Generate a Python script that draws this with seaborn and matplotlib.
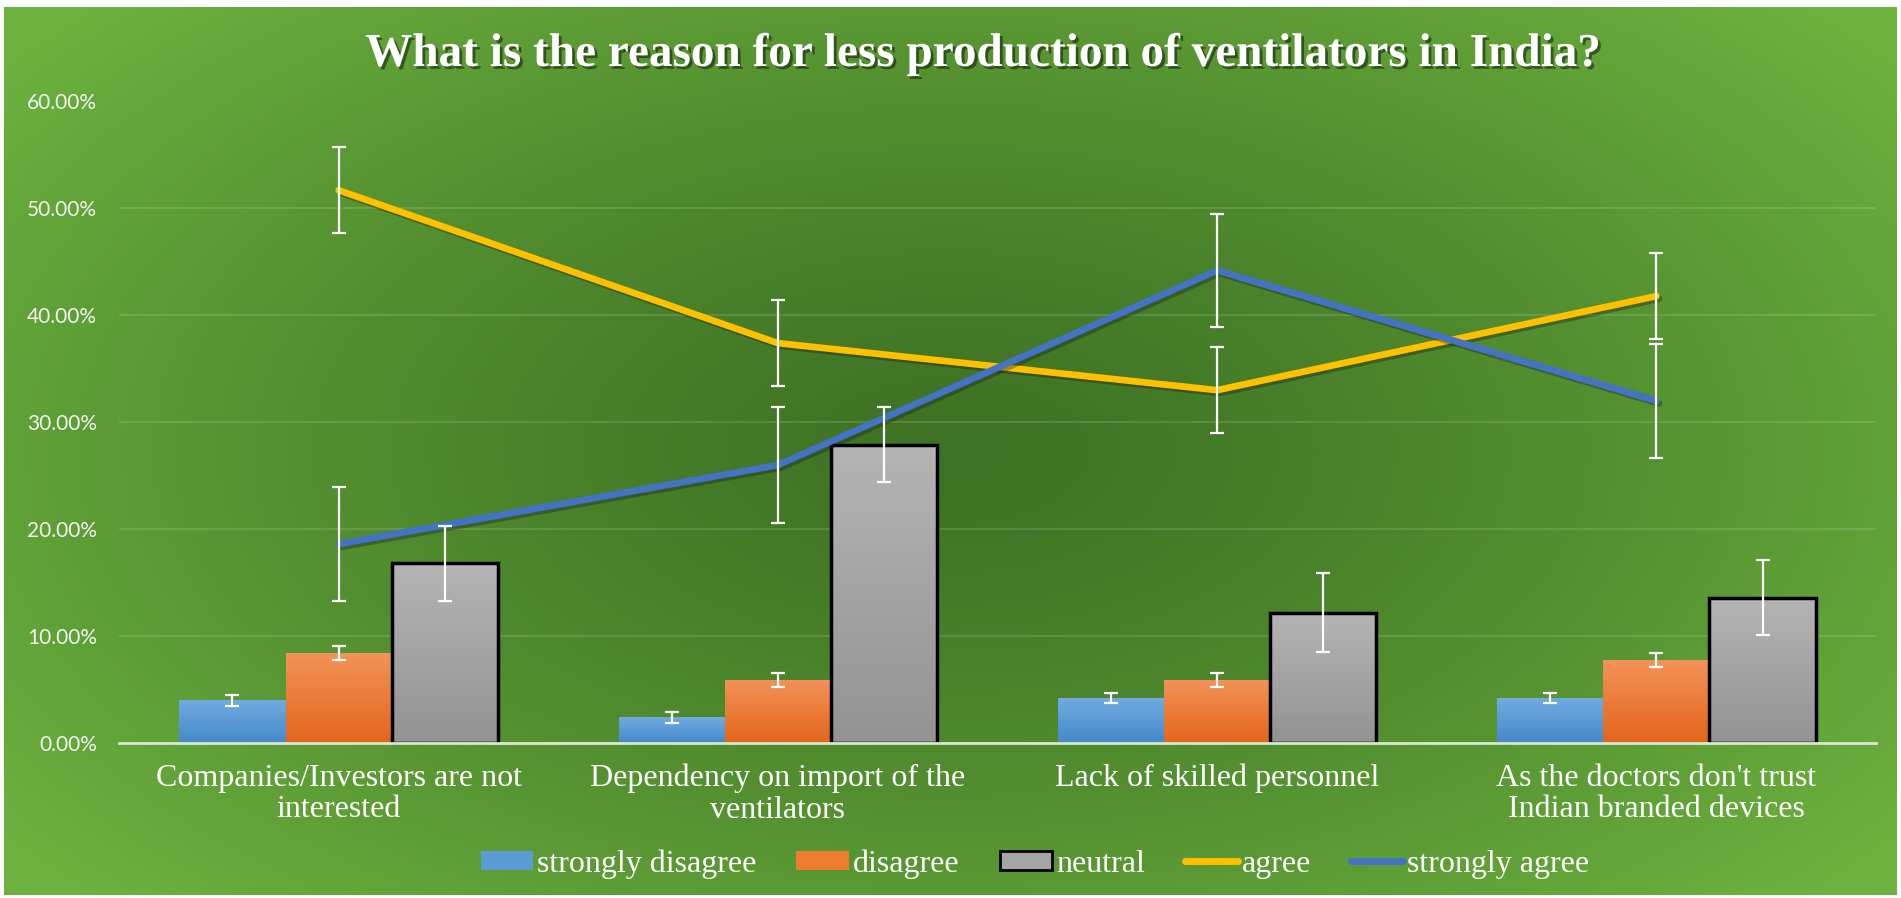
import matplotlib
matplotlib.use("Agg")

import matplotlib.pyplot as plt
import matplotlib.patheffects as pe
from matplotlib.colors import to_rgb
from matplotlib.lines import Line2D
from matplotlib.patches import Patch
from matplotlib.ticker import FuncFormatter, MultipleLocator
import numpy as np
import pandas as pd
import seaborn as sns


categories = [
    "Companies/Investors are not\ninterested",
    "Dependency on import of the\nventilators",
    "Lack of skilled personnel",
    "As the doctors don't trust\nIndian branded devices",
]
bar_levels = ["strongly disagree", "disagree", "neutral"]

strongly_disagree = [0.040, 0.024, 0.042, 0.042]
disagree = [0.084, 0.059, 0.059, 0.078]
neutral = [0.168, 0.279, 0.122, 0.136]
agree = [0.517, 0.374, 0.330, 0.418]
strongly_agree = [0.186, 0.260, 0.442, 0.320]

strongly_disagree_err = [0.005, 0.005, 0.005, 0.005]
disagree_err = [0.0065, 0.0065, 0.0065, 0.0065]
neutral_err = [0.035, 0.035, 0.037, 0.035]
agree_err = [0.040, 0.040, 0.040, 0.040]
strongly_agree_err = [0.053, 0.054, 0.053, 0.053]

COLORS = {
    "strongly disagree": "#5b9bd5",
    "disagree": "#ed7d31",
    "neutral": "#a5a5a5",
    "agree": "#ffc000",
    "strongly agree": "#4472c4",
}
# top / bottom shades for the gradient fill of the bars
GRADIENTS = {
    "strongly disagree": ("#72aae0", "#4489cb"),
    "disagree": ("#f3925a", "#e3661b"),
    "neutral": ("#b4b4b4", "#939393"),
}
SERIF = "Liberation Serif"
SANS = "Lato"


def draw_background(fig):
    bg = fig.add_axes([4 / 1901, 3 / 898, 1893 / 1901, 888 / 898], zorder=-10)
    h, w = 300, 640
    yy, xx = np.mgrid[0:h, 0:w]
    x = xx / (w - 1)
    y = yy / (h - 1)
    r = np.sqrt(((x - 0.5) / 0.62) ** 2 + ((y - 0.5) / 0.72) ** 2)
    t = np.clip(r, 0, 1) ** 1.3
    dark = np.array([0x3e, 0x72, 0x24]) / 255
    light = np.array([0x6c, 0xb1, 0x3e]) / 255
    img = dark[None, None, :] * (1 - t[..., None]) + light[None, None, :] * t[..., None]
    bg.imshow(img, aspect="auto", extent=[0, 1, 0, 1])
    bg.set_axis_off()


def gradient_fill(ax, patch, top, bottom):
    c0 = np.array(to_rgb(top))
    c1 = np.array(to_rgb(bottom))
    t = np.linspace(0, 1, 64)[:, None, None]
    img = c0 * (1 - t) + c1 * t
    x0, y0 = patch.get_x(), patch.get_y()
    im = ax.imshow(img, aspect="auto", origin="upper", zorder=1.9,
                   extent=[x0, x0 + patch.get_width(), y0, y0 + patch.get_height()])
    im.set_clip_path(patch)


def main() -> None:
    sns.set_theme(style="white")
    fig = plt.figure(figsize=(19.01, 8.98), dpi=100, facecolor="white")
    draw_background(fig)

    ax = fig.add_axes([119 / 1901, 1 - 743 / 898, (1876 - 119) / 1901, (743 - 101.5) / 898])
    ax.set_facecolor("none")

    df = pd.DataFrame(
        {
            "category": np.repeat(categories, 3),
            "level": bar_levels * 4,
            "value": np.ravel(np.column_stack([strongly_disagree, disagree, neutral])),
        }
    )
    sns.barplot(
        data=df, x="category", y="value", hue="level", hue_order=bar_levels,
        order=categories, palette=COLORS, width=0.725, saturation=1,
        errorbar=None, legend=False, ax=ax, zorder=2,
    )

    errs = [strongly_disagree_err, disagree_err, neutral_err]
    for cont, level, err in zip(ax.containers, bar_levels, errs):
        xs, hs = [], []
        for p in cont.patches:
            gradient_fill(ax, p, *GRADIENTS[level])
            p.set_facecolor("none")
            p.set_linewidth(0)
            if level == "neutral":
                p.set_edgecolor("black")
                p.set_linewidth(2.5)
            xs.append(p.get_x() + p.get_width() / 2)
            hs.append(p.get_height())
        ax.errorbar(xs, hs, yerr=err, fmt="none", ecolor="white", elinewidth=1.6,
                    capsize=5, capthick=1.6, zorder=6)

    xi = np.arange(len(categories))
    shadow = [pe.SimpleLineShadow(offset=(2, -2), alpha=0.35), pe.Normal()]
    for vals, err, name in [(agree, agree_err, "agree"), (strongly_agree, strongly_agree_err, "strongly agree")]:
        sns.lineplot(x=xi, y=vals, color=COLORS[name], linewidth=4.8, ax=ax, legend=False,
                     zorder=4, solid_capstyle="round", path_effects=shadow)
        ax.errorbar(xi, vals, yerr=err, fmt="none", ecolor="white", elinewidth=1.6,
                    capsize=5, capthick=1.6, zorder=6)

    ax.set_xlim(-0.5, len(categories) - 0.5)
    ax.set_ylim(0, 0.6)
    ax.yaxis.set_major_locator(MultipleLocator(0.1))
    ax.yaxis.set_major_formatter(FuncFormatter(lambda v, _: f"{v * 100:.2f}%"))
    ax.grid(axis="y", color="white", alpha=0.15, linewidth=1.2)
    ax.set_axisbelow(True)
    for s in ["top", "right", "left"]:
        ax.spines[s].set_visible(False)
    ax.spines["bottom"].set_color("#d9e8d0")
    ax.spines["bottom"].set_linewidth(2)
    ax.spines["bottom"].set_zorder(3)
    ax.set_xlabel("")
    ax.set_ylabel("")
    ax.tick_params(axis="y", length=0, pad=16, labelcolor="#f2f2f2", labelsize=15)
    ax.tick_params(axis="x", length=0, pad=15, labelcolor="white", labelsize=23)
    for lab in ax.get_yticklabels():
        lab.set_family(SANS)
    ax.set_xticks(xi)
    ax.set_xticklabels(categories, family=SERIF, va="top", linespacing=1.12)

    fig.text(811 * 1.2124 / 1901, 1 - 55 / 898,
             "What is the reason for less production of ventilators in India?",
             ha="center", va="center", color="white", fontsize=34, fontweight="bold",
             family=SERIF,
             path_effects=[pe.withSimplePatchShadow(offset=(2, -2), shadow_rgbFace="black", alpha=0.45)])

    handles = [
        Patch(facecolor=COLORS["strongly disagree"], edgecolor="none"),
        Patch(facecolor=COLORS["disagree"], edgecolor="none"),
        Patch(facecolor=COLORS["neutral"], edgecolor="black", linewidth=2),
        Line2D([], [], color=COLORS["agree"], linewidth=5, solid_capstyle="round"),
        Line2D([], [], color=COLORS["strongly agree"], linewidth=5, solid_capstyle="round"),
    ]
    labels = ["strongly disagree", "disagree", "neutral", "agree", "strongly agree"]
    fig.legend(handles, labels, loc="center", bbox_to_anchor=(1035 / 1901, 1 - 864 / 898),
               ncol=5, frameon=False, labelcolor="white",
               prop={"family": SERIF, "size": 23},
               handlelength=1.65, handleheight=0.55, handletextpad=0.12, columnspacing=1.25)

    fig.savefig("out.png", dpi=100, facecolor="white")
    plt.close(fig)


if __name__ == "__main__":
    main()
